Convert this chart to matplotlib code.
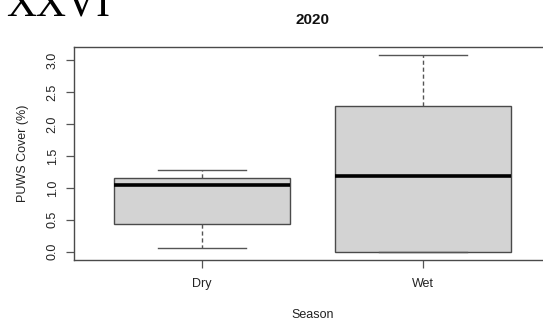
import matplotlib
matplotlib.use("Agg")
import matplotlib.pyplot as plt

# Season box summary (PUWS cover, %)
seasons = ["Dry", "Wet"]
whisker_low = [0.05, 0.00]
q1 = [0.44, 0.00]
median = [1.05, 1.18]
q3 = [1.15, 2.28]
whisker_high = [1.28, 3.08]
y_ticks = [0.0, 0.5, 1.0, 1.5, 2.0, 2.5, 3.0]

plt.rcParams['font.family'] = ['Liberation Sans', 'DejaVu Sans']

fig = plt.figure(figsize=(5.43, 3.27), dpi=100)
fig.patch.set_facecolor('white')
ax = fig.add_axes([74 / 543, 1 - 259.5 / 327, 477 / 543, 212.2 / 327])

stats = []
for i, name in enumerate(seasons):
    stats.append(dict(label=name, whislo=whisker_low[i], q1=q1[i], med=median[i],
                      q3=q3[i], whishi=whisker_high[i], fliers=[]))

edge = '#4a4a4a'
ax.bxp(stats, positions=[1, 2], widths=0.8, patch_artist=True, showfliers=False,
       boxprops=dict(facecolor='#d3d3d3', edgecolor=edge, linewidth=1.0),
       medianprops=dict(color='black', linewidth=2.6, solid_capstyle='butt'),
       whiskerprops=dict(color='#555555', linewidth=1.0, linestyle=(0, (3, 2))),
       capprops=dict(color='#555555', linewidth=1.0),
       capwidths=0.4)

# R-style 4% padding around the data range
lo, hi = min(whisker_low), max(whisker_high)
pad = 0.04 * (hi - lo)
ax.set_ylim(lo - pad, hi + pad)
ax.set_xlim(0.42, 2.58)

ax.set_yticks(y_ticks)
ax.set_yticklabels([f"{t:.1f}" for t in y_ticks], rotation=90, va='center',
                   fontsize=9, color='#222222')
ax.set_xticks([1, 2])
ax.set_xticklabels(seasons, fontsize=9, color='#222222')
ax.tick_params(axis='both', length=6, width=0.9, color='#555555')
ax.tick_params(axis='x', pad=7)
ax.tick_params(axis='y', pad=5)

for side in ax.spines.values():
    side.set_color(edge)
    side.set_linewidth(1.0)

ax.set_title('2020', fontsize=11, fontweight='bold', pad=17, color='#111111')
ax.set_xlabel('Season', fontsize=9, labelpad=14, color='#222222')
ax.set_ylabel('PUWS Cover (%)', fontsize=9, labelpad=13, color='#222222')

# panel letter cut off at the top edge
fig.text(6 / 543, 1 - 16 / 327, 'XXVI', family=['Liberation Serif', 'DejaVu Serif'],
         fontsize=30, color='black', ha='left', va='baseline')

fig.savefig('out.png', dpi=100, facecolor='white')
